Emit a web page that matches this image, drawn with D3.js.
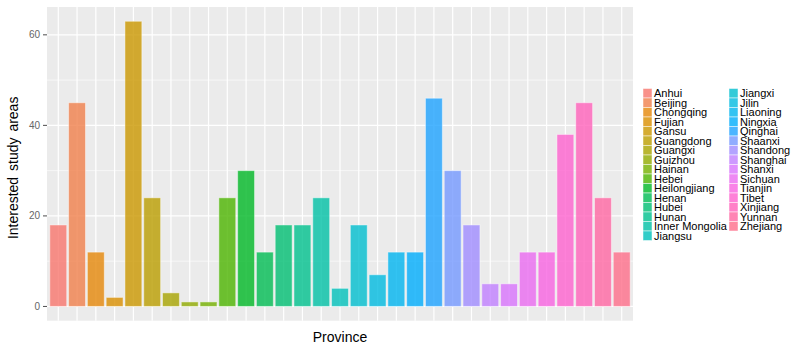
<!DOCTYPE html>
<html>
<head>
<meta charset="utf-8">
<script src="https://cdn.jsdelivr.net/npm/d3@7/dist/d3.min.js"></script>
<style>
  body { margin: 0; background: #fff; }
  text { font-family: "Liberation Sans", Arial, sans-serif; }
</style>
</head>
<body>
<svg id="chart" width="800" height="359"></svg>
<script>
const provinces = ["Anhui","Beijing","Chongqing","Fujian","Gansu","Guangdong","Guangxi","Guizhou","Hainan","Hebei","Heilongjiang","Henan","Hubei","Hunan","Inner Mongolia","Jiangsu","Jiangxi","Jilin","Liaoning","Ningxia","Qinghai","Shaanxi","Shandong","Shanghai","Shanxi","Sichuan","Tianjin","Tibet","Xinjiang","Yunnan","Zhejiang"];
const studyAreas = [18,45,12,2,63,24,3,1,1,24,30,12,18,18,24,4,18,7,12,12,46,30,18,5,5,12,12,38,45,24,12];
const yTicks = [0,20,40,60];
const yMinor = [10,30,50];
const xTitle = "Province";
const yTitle = "Interested study areas";

// ggplot2 hue palette (polar LUV, l=65, c=100)
function hclLuv(h, c, l) {
  const Xn = 95.047, Yn = 100, Zn = 108.883;
  const hr = h * Math.PI / 180;
  const u = c * Math.cos(hr), v = c * Math.sin(hr);
  const Y = l > 8 ? Yn * Math.pow((l + 16) / 116, 3) : Yn * l / 903.3;
  const den = Xn + 15 * Yn + 3 * Zn;
  const un = 4 * Xn / den, vn = 9 * Yn / den;
  const up = u / (13 * l) + un, vp = v / (13 * l) + vn;
  const X = 9 * Y * up / (4 * vp);
  const Z = -X / 3 - 5 * Y + 3 * Y / vp;
  const x = X / 100, y = Y / 100, z = Z / 100;
  const lin = [
    3.240479 * x - 1.537150 * y - 0.498535 * z,
    -0.969256 * x + 1.875992 * y + 0.041556 * z,
    0.055648 * x - 0.204043 * y + 1.057311 * z
  ];
  const g = lin.map(t => {
    const s = t > 0.00304 ? 1.055 * Math.pow(t, 1 / 2.4) - 0.055 : 12.92 * t;
    return Math.round(255 * Math.max(0, Math.min(1, s)));
  });
  return d3.rgb(g[0], g[1], g[2]).formatHex();
}
const n = provinces.length;
const palette = provinces.map((p, i) => hclLuv(15 + 360 * i / n, 100, 65));
const color = d3.scaleOrdinal().domain(provinces).range(palette);

const svg = d3.select("#chart");
const panel = {left: 47, right: 633, top: 7, bottom: 320.7};

const x = d3.scaleLinear().domain([0.4, n + 0.6]).range([panel.left, panel.right]);
const y = d3.scaleLinear().domain([-3.15, 66.15]).range([panel.bottom, panel.top]);

// panel background
svg.append("rect")
  .attr("x", panel.left).attr("y", panel.top)
  .attr("width", panel.right - panel.left).attr("height", panel.bottom - panel.top)
  .attr("fill", "#EBEBEB");

// minor grid
svg.append("g").selectAll("line").data(yMinor).join("line")
  .attr("x1", panel.left).attr("x2", panel.right)
  .attr("y1", d => y(d)).attr("y2", d => y(d))
  .attr("stroke", "#fff").attr("stroke-width", 0.6);
// major grid
svg.append("g").selectAll("line").data(yTicks).join("line")
  .attr("x1", panel.left).attr("x2", panel.right)
  .attr("y1", d => y(d)).attr("y2", d => y(d))
  .attr("stroke", "#fff").attr("stroke-width", 1.2);
svg.append("g").selectAll("line").data(provinces).join("line")
  .attr("x1", (d, i) => x(i + 1)).attr("x2", (d, i) => x(i + 1))
  .attr("y1", panel.top).attr("y2", panel.bottom)
  .attr("stroke", "#fff").attr("stroke-width", 1.2);

// bars
svg.append("g").selectAll("rect").data(provinces).join("rect")
  .attr("x", (d, i) => x(i + 1 - 0.45))
  .attr("width", (d, i) => x(i + 1 + 0.45) - x(i + 1 - 0.45))
  .attr("y", (d, i) => y(studyAreas[i]))
  .attr("height", (d, i) => y(0) - y(studyAreas[i]))
  .attr("fill", d => color(d))
  .attr("fill-opacity", 0.8)
  .attr("stroke", "#fff")
  .attr("stroke-opacity", 0.45)
  .attr("stroke-width", 1);

// y axis ticks + labels
const yAxis = svg.append("g");
yAxis.selectAll("line").data(yTicks).join("line")
  .attr("x1", panel.left - 4).attr("x2", panel.left)
  .attr("y1", d => y(d)).attr("y2", d => y(d))
  .attr("stroke", "#4D4D4D").attr("stroke-width", 1);
yAxis.selectAll("text").data(yTicks).join("text")
  .attr("x", panel.left - 7).attr("y", d => y(d))
  .attr("dy", "0.35em")
  .attr("text-anchor", "end")
  .attr("font-size", 10)
  .attr("fill", "#666")
  .text(d => d);

// titles
svg.append("text")
  .attr("x", (panel.left + panel.right) / 2).attr("y", 342)
  .attr("text-anchor", "middle").attr("font-size", 14).attr("fill", "#000")
  .text(xTitle);
svg.append("text")
  .attr("transform", `translate(18,${(panel.top + panel.bottom) / 2 + 4}) rotate(-90)`)
  .attr("text-anchor", "middle").attr("font-size", 14).attr("fill", "#000")
  .attr("word-spacing", "2px")
  .text(yTitle);

// legend
const perCol = 16, rowH = 9.5;
const colX = [643, 729];
const legend = svg.append("g");
const items = legend.selectAll("g").data(provinces).join("g")
  .attr("transform", (d, i) => `translate(${colX[Math.floor(i / perCol)]},${88.5 + (i % perCol) * rowH})`);
items.append("rect")
  .attr("width", 9).attr("height", rowH)
  .attr("fill", d => color(d)).attr("fill-opacity", 0.8)
  .attr("stroke", "#fff").attr("stroke-opacity", 0.6).attr("stroke-width", 0.8);
items.append("text")
  .attr("x", 11).attr("y", rowH / 2).attr("dy", "0.36em")
  .attr("font-size", 11).attr("fill", "#000")
  .text(d => d);
</script>
</body>
</html>
